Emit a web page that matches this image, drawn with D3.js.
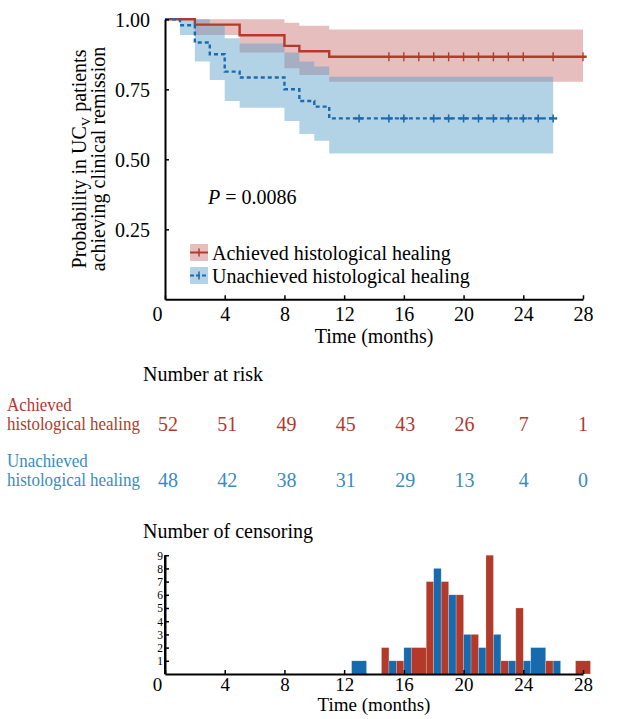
<!DOCTYPE html>
<html><head><meta charset="utf-8">
<script src="https://cdn.jsdelivr.net/npm/d3@7/dist/d3.min.js"></script>
<style>
html,body{margin:0;padding:0;background:#fff;}
svg{display:block;font-family:"Liberation Serif","Times New Roman",serif;}
</style></head>
<body>
<svg id="c" width="630" height="719"></svg>
<script>
// ---------- data ----------
const xTicks = [0, 4, 8, 12, 16, 20, 24, 28];
const yTicks = [0.25, 0.50, 0.75, 1.00];
const barYTicks = [1, 2, 3, 4, 5, 6, 7, 8, 9];

// Kaplan-Meier step curves (time where each step starts)
const achTimes = [0, 2, 5, 8, 9, 11];
const achSurv  = [1.000, 0.981, 0.943, 0.905, 0.886, 0.866];
const achUpper = [1.000, 1.000, 1.000, 0.988, 0.977, 0.964];
const achLower = [1.000, 0.944, 0.881, 0.825, 0.801, 0.777];
const achEnd = 28;

const unaTimes = [0, 1, 2, 3, 4, 5, 8, 9, 10, 11];
const unaSurv  = [1.000, 0.979, 0.917, 0.875, 0.813, 0.792, 0.750, 0.708, 0.688, 0.646];
const unaUpper = [1.000, 1.000, 1.000, 0.980, 0.932, 0.914, 0.881, 0.849, 0.831, 0.795];
const unaLower = [1.000, 0.944, 0.849, 0.783, 0.708, 0.684, 0.637, 0.590, 0.566, 0.521];
const unaEnd = 26;

// number at risk
const riskTimes = [0, 4, 8, 12, 16, 20, 24, 28];
const riskAch = [52, 51, 49, 45, 43, 26, 7, 1];
const riskUna = [48, 42, 38, 31, 29, 13, 4, 0];

// number of censoring per month (null = no bar drawn, 0 = empty bar)
const censorMonths = [1,2,3,4,5,6,7,8,9,10,11,12,13,14,15,16,17,18,19,20,21,22,23,24,25,26,27,28];
const censorAch = [0,0,0,0,0,null,null,0,0,0,0,null,null,null,2,1,2,7,7,6,3,9,1,5,null,1,null,1];
const censorUna = [0,0,0,0,0,null,null,0,0,0,0,null,1,null,1,2,null,8,6,3,2,3,1,1,2,1,null,null];

const pText = "0.0086";
const labelAch = ["Achieved", "histological healing"];
const labelUna = ["Unachieved", "histological healing"];

// ---------- styles ----------
const RED = "#b53a2c", BLUE = "#1c6aad";
const RED_TXT = "#b23a2c", BLUE_TXT = "#3a8cbd";
const RED_BAND = "rgba(175,40,40,0.30)", BLUE_BAND = "rgba(84,155,199,0.45)";
const BAR_RED = "#b33a2a", BAR_BLUE = "#176aae";

const svg = d3.select("#c");
const x = d3.scaleLinear().domain([0, 28]).range([165, 583]);
const yTop = d3.scaleLinear().domain([0, 1]).range([299.3, 19.3]);
const yBar = d3.scaleLinear().domain([0, 9]).range([674, 555.2]);

// ---------- KM plot ----------
function pts(times, vals, end) {
  const p = times.map((t, i) => [t, vals[i]]);
  p.push([end, vals[vals.length - 1]]);
  return p;
}
function bandPts(times, lo, hi, end) {
  const p = times.map((t, i) => ({t, lo: lo[i], hi: hi[i]}));
  p.push({t: end, lo: lo[lo.length - 1], hi: hi[hi.length - 1]});
  return p;
}
const area = d3.area().curve(d3.curveStepAfter)
  .x(d => x(d.t)).y0(d => yTop(d.lo)).y1(d => yTop(d.hi));
const line = d3.line().curve(d3.curveStepAfter).x(d => x(d[0])).y(d => yTop(d[1]));

svg.append("path").attr("d", area(bandPts(achTimes, achLower, achUpper, achEnd))).attr("fill", RED_BAND);
svg.append("path").attr("d", area(bandPts(unaTimes, unaLower, unaUpper, unaEnd))).attr("fill", BLUE_BAND);

svg.append("path").attr("d", line(pts(achTimes, achSurv, achEnd + 0.25)))
  .attr("fill", "none").attr("stroke", RED).attr("stroke-width", 2.4);
svg.append("path").attr("d", line(pts(unaTimes, unaSurv, unaEnd + 0.25)))
  .attr("fill", "none").attr("stroke", BLUE).attr("stroke-width", 2.4).attr("stroke-dasharray", "4,3");

function survAt(times, surv, t) {
  const i = d3.bisectRight(times, t) - 1;
  return surv[Math.max(0, i)];
}
const achCens = censorMonths.filter((m, i) => censorAch[i] > 0);
const unaCens = censorMonths.filter((m, i) => censorUna[i] > 0);
achCens.forEach(m => {
  const cx = x(m), cy = yTop(survAt(achTimes, achSurv, m));
  svg.append("line").attr("x1", cx).attr("x2", cx).attr("y1", cy - 4.5).attr("y2", cy + 4.5)
    .attr("stroke", RED).attr("stroke-width", 1.4);
});
unaCens.forEach(m => {
  const cx = x(m), cy = yTop(survAt(unaTimes, unaSurv, m));
  svg.append("line").attr("x1", cx).attr("x2", cx).attr("y1", cy - 4).attr("y2", cy + 4)
    .attr("stroke", BLUE).attr("stroke-width", 1.6);
  svg.append("line").attr("x1", cx - 4).attr("x2", cx + 4).attr("y1", cy).attr("y2", cy)
    .attr("stroke", BLUE).attr("stroke-width", 2.2);
});

// axes top
const gxTop = svg.append("g").attr("transform", `translate(0,${yTop(0)})`)
  .call(d3.axisBottom(x).tickValues(xTicks).tickSizeInner(-4).tickSizeOuter(0));
const gyTop = svg.append("g").attr("transform", `translate(${x(0)},0)`)
  .call(d3.axisLeft(yTop).tickValues(yTicks).tickFormat(d3.format(".2f")).tickSizeInner(-4).tickSizeOuter(0).tickPadding(15));
[gxTop, gyTop].forEach(g => {
  g.attr("font-family", null);
  g.select(".domain").attr("stroke", "#000").attr("stroke-width", 2);
  g.selectAll(".tick line").attr("stroke", "#000").attr("stroke-width", 1.5);
  g.selectAll("text").attr("font-family", "Liberation Serif").attr("font-size", 20).attr("fill", "#000");
});
gxTop.selectAll("text").attr("dy", null).attr("y", 22);
gxTop.selectAll(".tick").filter(d => d === 0).select("text").attr("x", -8);
gyTop.selectAll("text").attr("dy", "0.34em");

svg.append("text").attr("x", x(14)).attr("y", 343).attr("text-anchor", "middle")
  .attr("font-size", 20).text("Time (months)");

// y label
const yl = svg.append("text").attr("transform", `translate(86,159) rotate(-90)`)
  .attr("text-anchor", "middle").attr("font-size", 20);
const t1 = yl.append("tspan").attr("x", 0).attr("y", 0);
t1.append("tspan").text("Probability in UC");
t1.append("tspan").attr("font-size", 13).attr("dy", 4).text("V");
t1.append("tspan").attr("dy", -4).text(" patients");
yl.append("tspan").attr("x", 0).attr("y", 19).text("achieving clinical remission");

// P value
const pv = svg.append("text").attr("x", 208).attr("y", 204).attr("font-size", 20);
pv.append("tspan").attr("font-style", "italic").text("P");
pv.append("tspan").text(" = " + pText);

// legend
function legendItem(y0, band, col, dashed, label) {
  svg.append("rect").attr("x", 190).attr("y", y0).attr("width", 18).attr("height", 17).attr("fill", band);
  svg.append("line").attr("x1", 190).attr("x2", 208).attr("y1", y0 + 8.5).attr("y2", y0 + 8.5)
    .attr("stroke", col).attr("stroke-width", 2).attr("stroke-dasharray", dashed ? "4,2" : null);
  svg.append("line").attr("x1", 199).attr("x2", 199).attr("y1", y0 + 4.5).attr("y2", y0 + 12.5)
    .attr("stroke", col).attr("stroke-width", 1.5);
  svg.append("text").attr("x", 212).attr("y", y0 + 15.5).attr("font-size", 20).text(label);
}
legendItem(244, RED_BAND, RED, false, labelAch.join(" "));
legendItem(267, BLUE_BAND, BLUE, true, labelUna.join(" "));

// ---------- number at risk ----------
svg.append("text").attr("x", 143).attr("y", 381).attr("font-size", 20).text("Number at risk");
function riskRow(labels, vals, col, yBase) {
  svg.append("text").attr("transform", `translate(7,${yBase - 19}) scale(0.94,1)`)
    .attr("font-size", 18).attr("fill", col).text(labels[0]);
  svg.append("text").attr("transform", `translate(7,${yBase}) scale(0.94,1)`)
    .attr("font-size", 18).attr("fill", col).text(labels[1]);
  svg.selectAll(null).data(vals).enter().append("text")
    .attr("x", (d, i) => x(riskTimes[i]) + 3 * (1 - riskTimes[i] / 28)).attr("y", yBase + 1)
    .attr("text-anchor", "middle").attr("font-size", 20).attr("fill", col).text(d => d);
}
riskRow(labelAch, riskAch, RED_TXT, 430);
riskRow(labelUna, riskUna, BLUE_TXT, 486);

// ---------- censoring bars ----------
svg.append("text").attr("x", 143).attr("y", 538).attr("font-size", 20).text("Number of censoring");
const barData = [];
censorMonths.forEach((m, i) => {
  const a = censorAch[i], u = censorUna[i];
  const both = a !== null && u !== null && !(a > 0 && !(u > 0)) && !(u > 0 && !(a > 0));
  if (a !== null) barData.push({m, v: a, col: BAR_RED, x0: m - 0.5, x1: (both || !(a > 0) ? m : m + 0.5)});
  if (u !== null) barData.push({m, v: u, col: BAR_BLUE, x0: (both || !(u > 0) ? m : m - 0.5), x1: m + 0.5});
});
svg.selectAll(null).data(barData).enter().append("rect")
  .attr("x", d => x(d.x0)).attr("width", d => x(d.x1) - x(d.x0))
  .attr("y", d => yBar(d.v)).attr("height", d => yBar(0) - yBar(d.v))
  .attr("fill", d => d.col)
  .attr("stroke", d => d.v > 0 ? "rgba(255,255,255,0.35)" : d.col)
  .attr("stroke-width", d => d.v > 0 ? 0.6 : 1.2)
  .attr("transform", d => d.v > 0 ? null : "translate(0,-1.5)");

const gxBar = svg.append("g").attr("transform", `translate(0,${yBar(0)})`)
  .call(d3.axisBottom(x).tickValues(xTicks).tickSizeInner(-4).tickSizeOuter(0));
const gyBar = svg.append("g").attr("transform", `translate(${x(0)},0)`)
  .call(d3.axisLeft(yBar).tickValues(barYTicks).tickSizeInner(-4).tickSizeOuter(0).tickPadding(2));
svg.append("line").attr("x1", x(0)).attr("x2", x(0)).attr("y1", yBar(0)).attr("y2", yBar(9))
  .attr("stroke", "#000").attr("stroke-width", 2);
[gxBar, gyBar].forEach(g => {
  g.attr("font-family", null);
  g.select(".domain").attr("stroke", "#000").attr("stroke-width", 2);
  g.selectAll(".tick line").attr("stroke", "#000").attr("stroke-width", 1.5);
  g.selectAll("text").attr("font-family", "Liberation Serif").attr("fill", "#000");
});
gxBar.selectAll("text").attr("font-size", 19).attr("dy", null).attr("y", 17);
gxBar.selectAll(".tick").filter(d => d === 0).select("text").attr("x", -8);
gyBar.selectAll("text").attr("font-size", 11.5).attr("dy", "0.34em");
svg.append("text").attr("x", x(14)).attr("y", 711).attr("text-anchor", "middle")
  .attr("font-size", 19).text("Time (months)");
</script>
</body></html>
